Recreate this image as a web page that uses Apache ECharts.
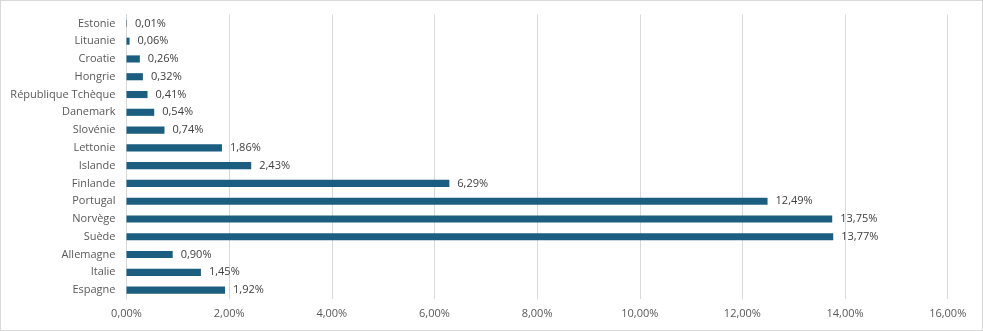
<!DOCTYPE html>
<html><head><meta charset="utf-8">
<script src="https://cdn.jsdelivr.net/npm/echarts@6/dist/echarts.min.js"></script>
<style>html,body{margin:0;padding:0;background:#fff}#c{width:983px;height:331px;box-sizing:border-box;border:1px solid #d9d9d9}</style>
</head><body><div id="c"></div>
<script>
const categories = ["Espagne","Italie","Allemagne","Suède","Norvège","Portugal","Finlande","Islande","Lettonie","Slovénie","Danemark","République Tchèque","Hongrie","Croatie","Lituanie","Estonie"];
const values = [1.92,1.45,0.90,13.77,13.75,12.49,6.29,2.43,1.86,0.74,0.54,0.41,0.32,0.26,0.06,0.01];
const xMin = 0, xMax = 16, xStep = 2;
const fmt = v => v.toFixed(2).replace('.', ',') + '%';
const chart = echarts.init(document.getElementById('c'));
const font = '"Open Sans", sans-serif';
chart.setOption({
  animation: false,
  grid: {left: 125.5, right: 34.3, top: 13.5, bottom: 31, containLabel: false},
  xAxis: {type: 'value', min: xMin, max: xMax, interval: xStep,
    axisLabel: {formatter: fmt, color: '#595959', fontSize: 11, fontFamily: font, margin: 9},
    splitLine: {lineStyle: {color: '#d9d9d9'}}, axisLine: {show: false}, axisTick: {show: false}},
  yAxis: {type: 'category', data: categories,
    axisLabel: {color: '#595959', fontSize: 11, fontFamily: font, margin: 11},
    axisLine: {show: true, lineStyle: {color: '#d9d9d9'}}, axisTick: {show: false}},
  series: [{type: 'bar', data: values, barWidth: '40%', itemStyle: {color: '#1b5e80'},
    label: {show: true, position: 'right', distance: 8, formatter: p => fmt(p.value), color: '#404040', fontSize: 11, fontFamily: font}}]
});
</script></body></html>
